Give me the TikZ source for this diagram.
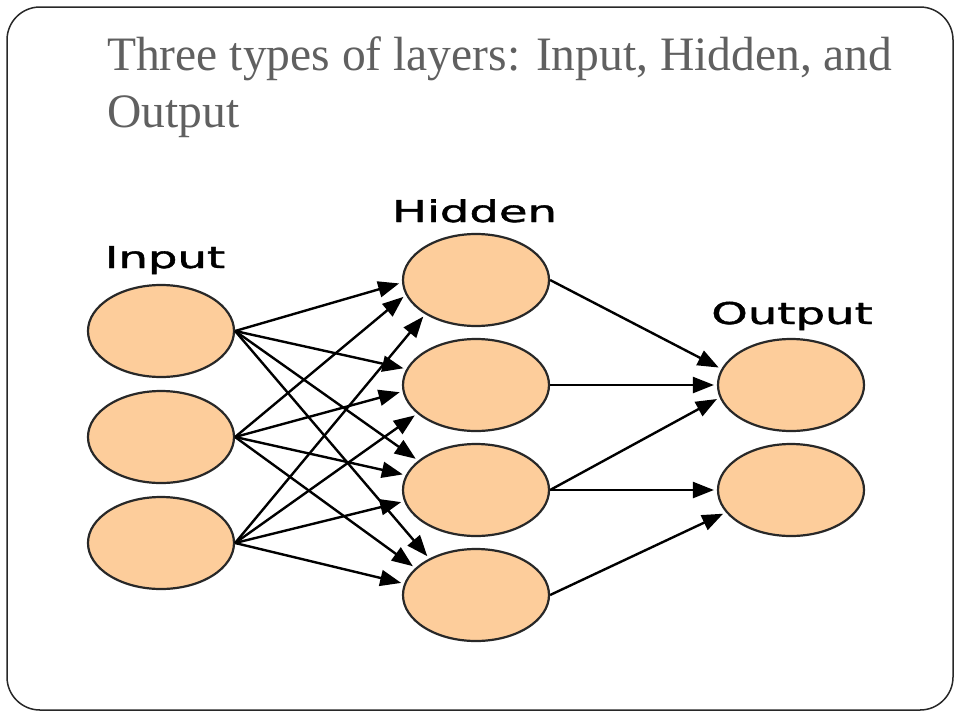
\documentclass[tikz,border=0pt]{standalone}
\usepackage{fontspec}
\usepackage{graphicx}
\setmainfont{Liberation Serif}
\newfontfamily\labelfont[FakeBold=1.2]{DejaVu Sans}
\usetikzlibrary{shapes.geometric,arrows.meta}
\definecolor{peach}{RGB}{253,205,155}
\definecolor{titlegray}{RGB}{96,96,96}
\definecolor{edgecol}{RGB}{40,40,40}
\begin{document}
\begin{tikzpicture}[x=1pt,y=-1pt,
  neuron/.style={ellipse, draw=edgecol, line width=2.2pt, fill=peach, minimum width=146pt, minimum height=92pt, inner sep=0pt},
  layerlabel/.style={anchor=base, font=\labelfont\fontsize{30}{36}\selectfont, text=black, inner sep=0pt},
  titletext/.style={anchor=base west, font=\fontsize{48}{57}\selectfont, text=titlegray, inner sep=0pt},
  conn/.style={-{Triangle[length=21pt,width=16pt]}, line width=2.4pt, black, shorten >=3pt}
]
\useasboundingbox (0,0) rectangle (960,720);
\fill[white] (0,0) rectangle (960,720);
\draw[rounded corners=33pt, line width=1.5pt, draw=edgecol] (7,7) rectangle (953,710);

\node[titletext] (title1) at (107,70) {\scalebox{0.99}[1]{Three types of layers: Input, Hidden, and}};
\node[titletext] (title2) at (107,127) {\scalebox{0.99}[1]{Output}};

\node[layerlabel] (lin) at (165,268) {\scalebox{1.55}[1]{Input}};
\node[layerlabel] (lhid) at (474.5,222) {\scalebox{1.55}[1]{Hidden}};
\node[layerlabel] (lout) at (792,324) {\scalebox{1.55}[1]{Output}};

\node[neuron] (I1) at (161,331) {};
\node[neuron] (I2) at (161,437) {};
\node[neuron] (I3) at (161,543) {};

\node[neuron] (H1) at (476,280) {};
\node[neuron] (H2) at (476,385) {};
\node[neuron] (H3) at (476,490) {};
\node[neuron] (H4) at (476,595) {};

\node[neuron] (O1) at (791,385) {};
\node[neuron] (O2) at (791,490) {};

\draw[conn] (I1.east) -- (H1.182);
\draw[conn] (I2.east) -- (H1.192);
\draw[conn] (I3.east) -- (H1.214);
\draw[conn] (I1.east) -- (H2.167);
\draw[conn] (I2.east) -- (H2.185);
\draw[conn] (I3.east) -- (H2.206);
\draw[conn] (I1.east) -- (H3.153);
\draw[conn] (I2.east) -- (H3.168);
\draw[conn] (I3.east) -- (H3.189);
\draw[conn] (I1.east) -- (H4.142);
\draw[conn] (I2.east) -- (H4.156);
\draw[conn] (I3.east) -- (H4.171);

\draw[conn] (H1.east) -- (O1.167);
\draw[conn] (H2.east) -- (O1.180);
\draw[conn] (H3.east) -- (O1.190);
\draw[conn] (H3.east) -- (O2.180);
\draw[conn] (H4.east) -- (O2.199);
\end{tikzpicture}
\end{document}
